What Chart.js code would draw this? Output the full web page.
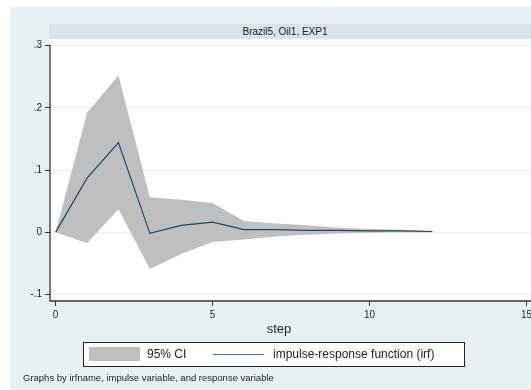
<!DOCTYPE html>
<html>
<head>
<meta charset="utf-8">
<script src="https://cdn.jsdelivr.net/npm/chart.js@4.4.1/dist/chart.umd.min.js"></script>
<style>
  html, body { margin:0; padding:0; background:#ffffff; }
  #wrap { position:relative; width:531px; height:390px; overflow:hidden; font-family:"Liberation Sans", Arial, sans-serif; }
  #panel { position:absolute; left:10px; top:7px; right:0; bottom:0; background:#e9f0f3; }
  #band { position:absolute; left:49px; top:24px; width:482px; height:15px; background:#d8e4ea; }
  #title { position:absolute; left:49px; top:24px; width:472px; height:15px; line-height:15px; text-align:center; font-size:10px; color:#222; }
  #cv { position:absolute; left:0; top:0; }
  #xtitle { position:absolute; left:229px; width:100px; top:321px; text-align:center; font-size:13px; color:#222; }
  #legend { position:absolute; left:83px; top:342px; width:380px; height:23px; border:1px solid #222; background:#fff; }
  #sw { position:absolute; left:5px; top:4px; width:51px; height:14px; background:#bfbfbf; }
  #l1 { position:absolute; left:63px; top:0; line-height:23px; font-size:12px; color:#222; }
  #ln { position:absolute; left:129px; top:11px; width:51px; height:1px; background:#4a6a8a; }
  #l2 { position:absolute; left:189px; top:0; line-height:23px; font-size:12px; color:#222; white-space:nowrap; }
  #note { position:absolute; left:23px; top:372px; font-size:9.5px; color:#222; white-space:nowrap; }
</style>
</head>
<body>
<div id="wrap">
  <div id="panel"></div>
  <div id="band"></div>
  <div id="title">Brazil5, Oil1, EXP1</div>
  <canvas id="cv" width="531" height="390"></canvas>
  <div id="xtitle">step</div>
  <div id="legend">
    <div id="sw"></div><div id="l1">95% CI</div>
    <div id="ln"></div><div id="l2">impulse-response function (irf)</div>
  </div>
  <div id="note">Graphs by irfname, impulse variable, and response variable</div>
</div>
<script>
const steps = [0, 1, 2, 3, 4, 5, 6, 7, 8, 9, 10, 11, 12];
const irf   = [0, 0.087, 0.144, -0.002, 0.011, 0.016, 0.004, 0.004, 0.003, 0.003, 0.002, 0.002, 0.001];
const ciUpper = [0, 0.192, 0.252, 0.056, 0.052, 0.047, 0.018, 0.014, 0.011, 0.007, 0.005, 0.004, 0.002];
const ciLower = [0, -0.018, 0.037, -0.0595, -0.035, -0.016, -0.012, -0.007, -0.004, -0.002, -0.001, 0, 0];
const yTicks = [-0.1, 0, 0.1, 0.2, 0.3];
const yTickLabels = ["-.1", "0", ".1", ".2", ".3"];
const xTicks = [0, 5, 10, 15];
const xTickLabels = ["0", "5", "10", "15"];

const pts = arr => steps.map((s, i) => ({x: s, y: arr[i]}));

const bgPlugin = {
  id: 'bg',
  beforeDraw(chart) {
    const {ctx, chartArea: a} = chart;
    ctx.save();
    ctx.fillStyle = '#ffffff';
    ctx.fillRect(a.left, a.top, a.right - a.left, a.bottom - a.top);
    ctx.restore();
  },
  afterDraw(chart) {
    const {ctx, chartArea: a, scales} = chart;
    const yTop = scales.y.getPixelForValue(0.3) - 1;
    ctx.save();
    ctx.strokeStyle = '#333333';
    ctx.lineWidth = 1.3;
    ctx.beginPath();
    ctx.moveTo(a.left, yTop);
    ctx.lineTo(a.left, a.bottom);
    ctx.lineTo(a.right, a.bottom);
    ctx.stroke();
    ctx.restore();
  }
};

new Chart(document.getElementById('cv'), {
  type: 'line',
  data: {
    datasets: [
      { label: 'irf', data: pts(irf), borderColor: '#1a476f', borderWidth: 1.2, pointRadius: 0, fill: false, tension: 0, order: 0 },
      { label: '95% CI', data: pts(ciUpper), borderWidth: 0, borderColor: 'rgba(0,0,0,0)', backgroundColor: '#bfbfbf', pointRadius: 0, fill: '+1', tension: 0, order: 1 },
      { label: 'lower', data: pts(ciLower), borderWidth: 0, borderColor: 'rgba(0,0,0,0)', pointRadius: 0, fill: false, tension: 0, order: 2 }
    ]
  },
  options: {
    responsive: false,
    animation: false,
    events: [],
    layout: { padding: { top: 39, left: 0, right: 0, bottom: 0 } },
    plugins: { legend: { display: false }, tooltip: { enabled: false }, title: { display: false } },
    scales: {
      x: {
        type: 'linear',
        min: -0.18, max: 15.14,
        afterFit(s) { s.height = 89; s.paddingLeft = 0; s.paddingRight = 0; },
        afterBuildTicks(s) { s.ticks = xTicks.map(v => ({value: v})); },
        grid: { drawOnChartArea: false, drawTicks: true, tickLength: 5, tickColor: '#333333', tickWidth: 1 },
        border: { display: false },
        ticks: {
          padding: 3, maxRotation: 0, autoSkip: false,
          font: { family: 'Liberation Sans', size: 10 }, color: '#222',
          callback: (v) => { const i = xTicks.indexOf(v); return i >= 0 ? xTickLabels[i] : ''; }
        }
      },
      y: {
        type: 'linear',
        min: -0.1108, max: 0.3108,
        afterFit(s) { s.width = 50; s.paddingTop = 0; s.paddingBottom = 0; },
        afterBuildTicks(s) { s.ticks = yTicks.map(v => ({value: v})); },
        grid: { color: '#e6eff2', lineWidth: 1, drawTicks: true, tickLength: 5, tickColor: '#333333', tickWidth: 1 },
        border: { display: false },
        ticks: {
          padding: 3, autoSkip: false,
          font: { family: 'Liberation Sans', size: 10 }, color: '#222',
          callback: (v) => { const i = yTicks.findIndex(t => Math.abs(t - v) < 1e-9); return i >= 0 ? yTickLabels[i] : ''; }
        }
      }
    }
  },
  plugins: [bgPlugin]
});
</script>
</body>
</html>
